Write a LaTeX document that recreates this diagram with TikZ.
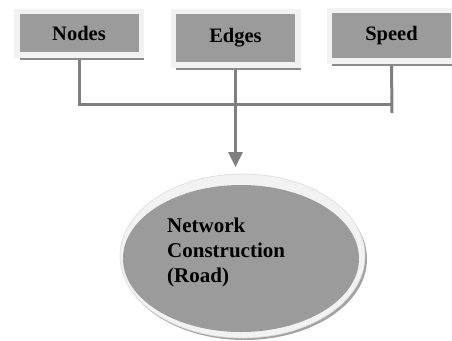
\documentclass[tikz,border=0pt]{standalone}
\usepackage{fontspec}
\setmainfont{Liberation Serif}
\usetikzlibrary{shapes.geometric,shadows,arrows.meta,backgrounds}
\definecolor{boxgray}{HTML}{9B9B9B}
\definecolor{framecol}{HTML}{F2F2F2}
\definecolor{linecol}{HTML}{7F7F7F}
\definecolor{shadowcol}{HTML}{8C8C8C}
\tikzset{
  topbox/.style={rectangle, fill=boxgray, draw=framecol, line width=5.5pt,
    font=\fontsize{20.5}{24}\selectfont\bfseries, inner sep=0pt,
    minimum width=124.5pt,
    drop shadow={shadow xshift=3pt, shadow yshift=-5.5pt, fill=shadowcol, opacity=1}},
  conn/.style={draw=linecol, line width=3pt},
  netshape/.style={ellipse, fill=boxgray, draw=none, inner sep=0pt,
    minimum width=236pt, minimum height=147pt}
}
\begin{document}
\begin{tikzpicture}[x=1pt,y=-1pt]
\useasboundingbox (0,0) rectangle (452,340);
\clip (0,0) rectangle (452,340);
% top boxes
\node[topbox, minimum height=43.5pt] (nodes) at (79,33) {Nodes};
\node[topbox, minimum height=53.5pt] (edges) at (235.5,38) {Edges};
\node[topbox, minimum height=50.5pt] (speed) at (391.5,35.5) {Speed};
% ellipse rim (decoration) and node
\fill[shadowcol!80] (244.5,259) ellipse [x radius=122.5, y radius=81];
\filldraw[fill=framecol, draw=framecol!80!gray, line width=0.6pt] (242.5,256) ellipse [x radius=122.5, y radius=82];
\node[netshape] (net) at (241,258.5) {};
\node[align=left, anchor=west, inner sep=0pt,
  font=\fontsize{21}{25}\selectfont\bfseries] (netlabel) at (167,252)
  {Network\\Construction\\(Road)};
% connectors
\coordinate (bar) at (392,104);
\coordinate (speedend) at (392,113);
\coordinate (arrowtip) at (235.5,167);
\begin{scope}[on background layer]
\fill[white] (0,0) rectangle (452,340);
\draw[conn] (nodes.south) |- (bar);
\draw[conn] (speed.south) -- (speedend);
\draw[conn, -{Triangle[width=14pt,length=15pt]}] (edges.south) -- (arrowtip);
\end{scope}
\end{tikzpicture}
\end{document}
